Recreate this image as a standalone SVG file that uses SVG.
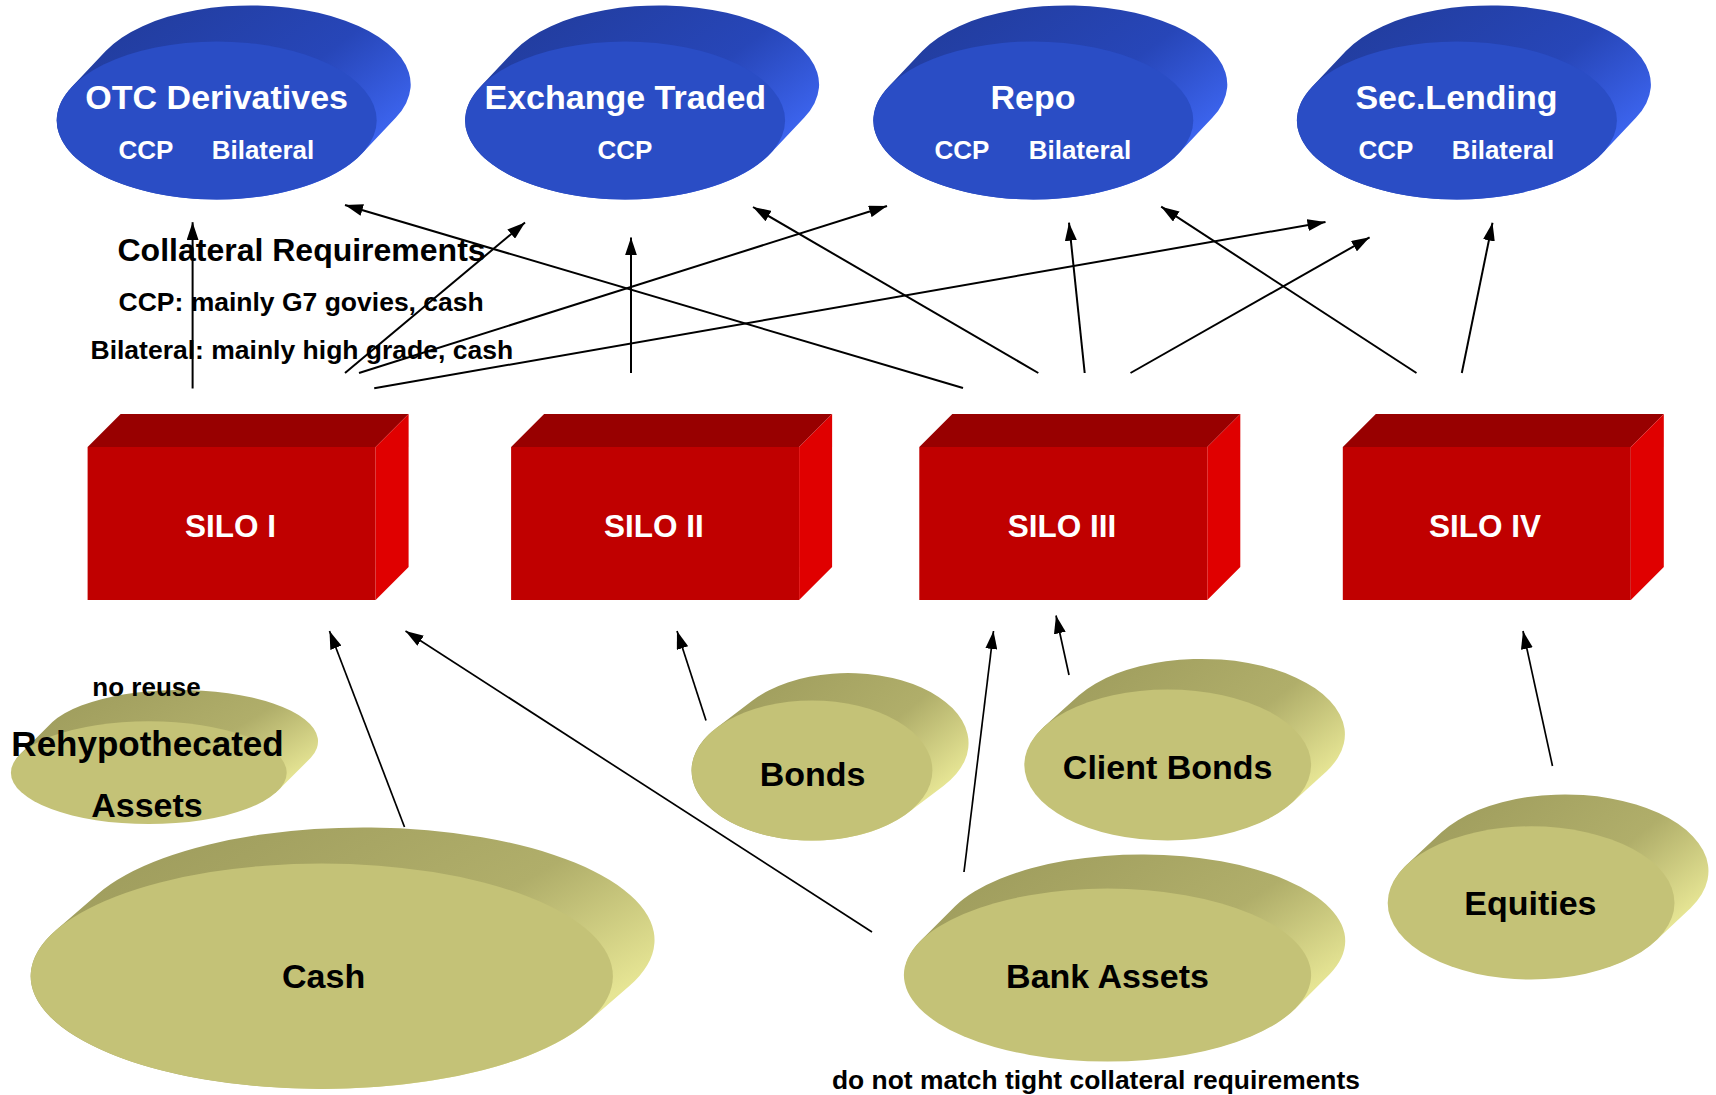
<svg xmlns="http://www.w3.org/2000/svg" width="1716" height="1095" viewBox="0 0 1716 1095">
<defs>
<style>
.t{font-family:"Liberation Sans",Arial,sans-serif;font-weight:bold;}
.w{fill:#ffffff;}
.k{fill:#000000;}
.c{text-anchor:middle;}
.bf{fill:#2a4dc5;}
.bs{fill:url(#gBlue);}
.yf{fill:#c4c277;}
.ys{fill:url(#gYel);}
.rf{fill:#c00000;}
.rt{fill:#980000;}
.rr{fill:#e00000;}
#connectors line{stroke:#000;stroke-width:2;fill:none;marker-end:url(#ah);}
</style>
<linearGradient id="gBlue" x1="0.25" y1="0" x2="1" y2="0.55">
<stop offset="0" stop-color="#223d9f"/>
<stop offset="0.6" stop-color="#2746b8"/>
<stop offset="1" stop-color="#3c64ee"/>
</linearGradient>
<linearGradient id="gYel" x1="0.25" y1="0" x2="1" y2="0.55">
<stop offset="0" stop-color="#a09e5e"/>
<stop offset="0.6" stop-color="#b0ae6a"/>
<stop offset="1" stop-color="#e6e594"/>
</linearGradient>
<marker id="ah" viewBox="0 0 18 12" refX="18" refY="6" markerWidth="18" markerHeight="12" markerUnits="userSpaceOnUse" orient="auto">
<path d="M0,0 L18,6 L0,12 Z" fill="#000"/>
</marker>
<g id="blueDisc">
<path class="bs" d="M145,33.4 L179,-2.6 A160,79 0 0 0 -111,-69.4 L-145,-33.4 A160,79 0 0 0 145,33.4 Z"/>
<ellipse class="bf" cx="0" cy="0" rx="160" ry="79"/>
</g>
<g id="silo">
<rect class="rf" x="0" y="447" width="288" height="153"/>
<path class="rt" d="M0,447 L33,414 L321,414 L288,447 Z"/>
<path class="rr" d="M288,447 L321,414 L321,567 L288,600 Z"/>
</g>
</defs>

<rect x="0" y="0" width="1716" height="1095" fill="#ffffff"/>

<g id="otc">
<use href="#blueDisc" transform="translate(216.7,120.4)"/>
<text class="t w c" x="216.7" y="109" font-size="34">OTC Derivatives</text>
<text class="t w c" x="146" y="159" font-size="26">CCP</text>
<text class="t w c" x="263" y="159" font-size="26">Bilateral</text>
</g>
<g id="exchange">
<use href="#blueDisc" transform="translate(625.1,120.4)"/>
<text class="t w c" x="625.3" y="109" font-size="34">Exchange Traded</text>
<text class="t w c" x="625" y="159" font-size="26">CCP</text>
</g>
<g id="repo">
<use href="#blueDisc" transform="translate(1033.3,120.4)"/>
<text class="t w c" x="1033" y="109" font-size="34">Repo</text>
<text class="t w c" x="962" y="159" font-size="26">CCP</text>
<text class="t w c" x="1080" y="159" font-size="26">Bilateral</text>
</g>
<g id="seclending">
<use href="#blueDisc" transform="translate(1456.9,120.4)"/>
<text class="t w c" x="1456.5" y="109" font-size="34">Sec.Lending</text>
<text class="t w c" x="1386" y="159" font-size="26">CCP</text>
<text class="t w c" x="1503" y="159" font-size="26">Bilateral</text>
</g>

<g id="requirements">
<text class="t k" x="117.5" y="261" font-size="32">Collateral Requirements</text>
<text class="t k" x="118.5" y="311" font-size="26.5">CCP: mainly G7 govies, cash</text>
<text class="t k" x="90.5" y="359" font-size="26.5">Bilateral: mainly high grade, cash</text>
</g>

<g id="silo1">
<use href="#silo" transform="translate(87.6,0)"/>
<text class="t w c" x="230.5" y="536.5" font-size="31.5">SILO I</text>
</g>
<g id="silo2">
<use href="#silo" transform="translate(511.1,0)"/>
<text class="t w c" x="654" y="536.5" font-size="31.5">SILO II</text>
</g>
<g id="silo3">
<use href="#silo" transform="translate(919.3,0)"/>
<text class="t w c" x="1062" y="536.5" font-size="31.5">SILO III</text>
</g>
<g id="silo4">
<use href="#silo" transform="translate(1342.8,0)"/>
<text class="t w c" x="1485" y="536.5" font-size="31.5">SILO IV</text>
</g>

<g id="rehypothecated">
<g transform="translate(148.8,772.7)">
<path class="ys" d="M129.2,17.9 L162,-14.9 A137.9,51.4 0 0 0 -96.4,-50.7 L-129.2,-17.9 A137.9,51.4 0 0 0 129.2,17.9 Z"/>
<ellipse class="yf" cx="0" cy="0" rx="137.9" ry="51.4"/>
</g>
<text class="t k c" x="146.5" y="696" font-size="26">no reuse</text>
<text class="t k c" x="147.5" y="755.5" font-size="35">Rehypothecated</text>
<text class="t k c" x="147" y="817" font-size="34">Assets</text>
</g>

<g id="cash">
<g transform="translate(321.8,976.2)">
<path class="ys" d="M265.9,45.9 L307.5,9.8 A291.1,112.7 0 0 0 -224.3,-82 L-265.9,-45.9 A291.1,112.7 0 0 0 265.9,45.9 Z"/>
<ellipse class="yf" cx="0" cy="0" rx="291.1" ry="112.7"/>
</g>
<text class="t k c" x="323.6" y="988" font-size="34">Cash</text>
</g>

<g id="bonds">
<g transform="translate(812,770.5)">
<path class="ys" d="M95.6,42.6 L131.7,15.2 A120.4,70 0 0 0 -59.5,-70 L-95.6,-42.6 A120.4,70 0 0 0 95.6,42.6 Z"/>
<ellipse class="yf" cx="0" cy="0" rx="120.4" ry="70"/>
</g>
<text class="t k c" x="812.6" y="786" font-size="34">Bonds</text>
</g>

<g id="clientbonds">
<g transform="translate(1167.7,765)">
<path class="ys" d="M124,37.9 L159,6.2 A143.4,75.5 0 0 0 -89,-69.6 L-124,-37.9 A143.4,75.5 0 0 0 124,37.9 Z"/>
<ellipse class="yf" cx="0" cy="0" rx="143.4" ry="75.5"/>
</g>
<text class="t k c" x="1167.7" y="779" font-size="34">Client Bonds</text>
</g>

<g id="bankassets">
<g transform="translate(1107.5,975.1)">
<path class="ys" d="M187.4,33.8 L222.4,-1.2 A203.6,86.5 0 0 0 -152.4,-68.8 L-187.4,-33.8 A203.6,86.5 0 0 0 187.4,33.8 Z"/>
<ellipse class="yf" cx="0" cy="0" rx="203.6" ry="86.5"/>
</g>
<text class="t k c" x="1107.5" y="988" font-size="34">Bank Assets</text>
</g>

<g id="equities">
<g transform="translate(1531.1,902.9)">
<path class="ys" d="M124.6,37.9 L159.6,5.1 A143.4,76.6 0 0 0 -89.6,-70.7 L-124.6,-37.9 A143.4,76.6 0 0 0 124.6,37.9 Z"/>
<ellipse class="yf" cx="0" cy="0" rx="143.4" ry="76.6"/>
</g>
<text class="t k c" x="1530.4" y="915" font-size="34">Equities</text>
</g>

<g id="note">
<text class="t k" x="832" y="1089" font-size="26.4">do not match tight collateral requirements</text>
</g>

<g id="connectors">
<line x1="192.6" y1="388.5" x2="192.6" y2="222.2"/>
<line x1="345" y1="373" x2="525" y2="222.5"/>
<line x1="359" y1="373" x2="887" y2="206"/>
<line x1="374.2" y1="388.3" x2="1325.5" y2="222"/>
<line x1="631" y1="373" x2="631" y2="237.4"/>
<line x1="963" y1="388" x2="345" y2="205"/>
<line x1="1038.3" y1="373" x2="753" y2="207"/>
<line x1="1084.7" y1="373" x2="1069" y2="222.7"/>
<line x1="1130.5" y1="373" x2="1369.6" y2="237.3"/>
<line x1="1416.5" y1="373" x2="1161.2" y2="206.7"/>
<line x1="1461.8" y1="373" x2="1492.5" y2="222.7"/>
<line x1="404.5" y1="827" x2="329.5" y2="631" style="stroke-width:1.7"/>
<line x1="872" y1="932" x2="405.5" y2="631" style="stroke-width:1.7"/>
<line x1="706" y1="720.5" x2="677" y2="631" style="stroke-width:1.7"/>
<line x1="964" y1="872" x2="993.5" y2="631" style="stroke-width:1.7"/>
<line x1="1069" y1="675" x2="1056" y2="615.5" style="stroke-width:1.7"/>
<line x1="1552.5" y1="766" x2="1523" y2="631" style="stroke-width:1.7"/>
</g>
</svg>
